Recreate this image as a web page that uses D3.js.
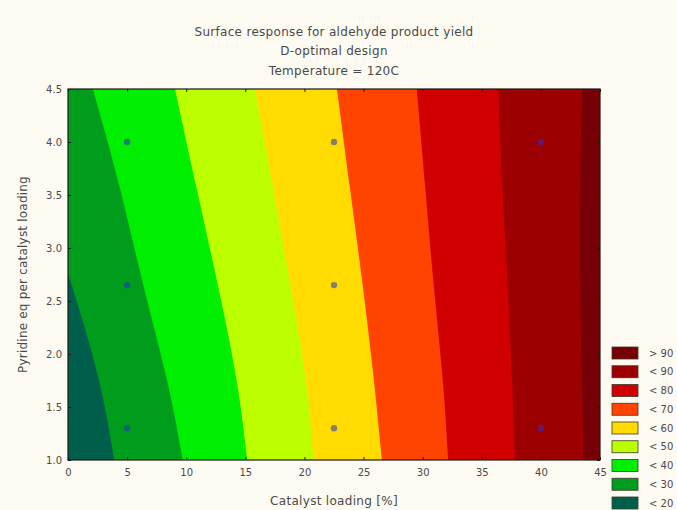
<!DOCTYPE html>
<html>
<head>
<meta charset="utf-8">
<script src="https://cdn.jsdelivr.net/npm/d3@7"></script>
<style>
  html, body { margin: 0; padding: 0; background: #fdfaf2; }
  svg { display: block; }
  text { font-family: "DejaVu Sans", sans-serif; fill: #4a4a4a; }
</style>
</head>
<body>
<svg id="chart" width="677" height="510"></svg>
<script>
// ---- data ----
const titleLines = ["Surface response for aldehyde product yield", "D-optimal design", "Temperature = 120C"];
const xLabel = "Catalyst loading [%]";
const yLabel = "Pyridine eq per catalyst loading";
const xTicks = [0, 5, 10, 15, 20, 25, 30, 35, 40, 45];
const yTicks = [1.0, 1.5, 2.0, 2.5, 3.0, 3.5, 4.0, 4.5];

// pyridine levels at which each contour boundary was read
const yLevels = [4.5, 3.6, 2.65, 1.7, 1.0];
// catalyst loading of each contour line at the yLevels above
const contour20 = [-4.8, -2.4, 0.35, 2.9, 3.9];
const contour30 = [2.1, 4.4, 6.3, 8.6, 9.7];
const contour40 = [9.05, 10.8, 12.7, 14.45, 15.15];
const contour50 = [15.8, 17.3, 18.8, 20.3, 20.75];
const contour60 = [22.75, 23.8, 24.95, 25.95, 26.55];
const contour70 = [29.5, 30.2, 30.9, 31.8, 32.15];
const contour80 = [36.4, 36.7, 37.2, 37.6, 37.8];
const contour90 = [43.5, 43.3, 43.3, 43.5, 43.6];

const bandLabels = ["< 20", "< 30", "< 40", "< 50", "< 60", "< 70", "< 80", "< 90", "> 90"];
const bandColors = ["#005f4a", "#009c1c", "#00ee00", "#bbff00", "#ffdb00", "#ff4300", "#d00000", "#9c0000", "#760006"];

// design points
const pointX = [5, 5, 5, 22.5, 22.5, 22.5, 40, 40];
const pointY = [4.0, 2.65, 1.3, 4.0, 2.65, 1.3, 4.0, 1.3];

// ---- drawing ----
(function () {
const svg = d3.select("#chart");
const mLeft = 68, mRight = 600, mTop = 89, mBottom = 460;

const x = d3.scaleLinear().domain([0, 45]).range([mLeft, mRight]);
const y = d3.scaleLinear().domain([1.0, 4.5]).range([mBottom, mTop]);

svg.append("defs").append("clipPath").attr("id", "plotClip")
  .append("rect").attr("x", mLeft).attr("y", mTop)
  .attr("width", mRight - mLeft).attr("height", mBottom - mTop);

const plot = svg.append("g").attr("clip-path", "url(#plotClip)");

// base band
plot.append("rect").attr("x", mLeft).attr("y", mTop)
  .attr("width", mRight - mLeft).attr("height", mBottom - mTop)
  .attr("fill", bandColors[0]);

const contours = [contour20, contour30, contour40, contour50, contour60, contour70, contour80, contour90];
const area = d3.area()
  .y(d => y(d.y))
  .x0(d => x(d.x))
  .x1(() => x(50))
  .curve(d3.curveBasis);

contours.forEach((c, i) => {
  const pts = yLevels.map((yy, k) => ({ x: c[k], y: yy })).reverse();
  plot.append("path")
    .attr("d", area(pts))
    .attr("fill", bandColors[i + 1]);
});

// design points
plot.selectAll("circle.pt")
  .data(pointX.map((px, i) => ({ x: px, y: pointY[i] })))
  .join("circle")
  .attr("class", "pt")
  .attr("cx", d => x(d.x))
  .attr("cy", d => y(d.y))
  .attr("r", 3.2)
  .attr("fill", "#2a30c8")
  .attr("fill-opacity", 0.55);

// axes with inward ticks
const fmtY = d3.format(".1f");
const gx = svg.append("g").attr("transform", `translate(0,${mBottom})`)
  .call(d3.axisBottom(x).tickValues(xTicks).tickSize(-3).tickPadding(9).tickFormat(d3.format("d")));
const gy = svg.append("g").attr("transform", `translate(${mLeft},0)`)
  .call(d3.axisLeft(y).tickValues(yTicks).tickSize(-3).tickPadding(6).tickFormat(fmtY));
const gt = svg.append("g").attr("transform", `translate(0,${mTop})`)
  .call(d3.axisTop(x).tickValues(xTicks).tickSize(-3).tickFormat(""));
const gr = svg.append("g").attr("transform", `translate(${mRight},0)`)
  .call(d3.axisRight(y).tickValues(yTicks).tickSize(-3).tickFormat(""));

[gx, gy, gt, gr].forEach(g => {
  g.select(".domain").remove();
  g.selectAll(".tick line").attr("stroke", "#1a1a1a");
  g.selectAll(".tick text").attr("font-size", 10).attr("fill", "#555")
    .attr("font-family", "DejaVu Sans, sans-serif");
});

// frame
svg.append("rect").attr("x", mLeft).attr("y", mTop)
  .attr("width", mRight - mLeft).attr("height", mBottom - mTop)
  .attr("fill", "none").attr("stroke", "#1a1a1a").attr("stroke-width", 1.2);

// titles
svg.selectAll("text.title").data(titleLines).join("text")
  .attr("class", "title")
  .attr("x", (mLeft + mRight) / 2)
  .attr("y", (d, i) => 35.5 + i * 19.5)
  .attr("text-anchor", "middle")
  .attr("font-size", 12)
  .attr("letter-spacing", 0.3)
  .text(d => d);

svg.append("text")
  .attr("x", (mLeft + mRight) / 2).attr("y", 504.5)
  .attr("text-anchor", "middle").attr("font-size", 12)
  .attr("letter-spacing", 0.3)
  .text(xLabel);

svg.append("text")
  .attr("transform", `translate(27,${(mTop + mBottom) / 2}) rotate(-90)`)
  .attr("text-anchor", "middle").attr("font-size", 12)
  .attr("letter-spacing", 0.2)
  .text(yLabel);

// legend
const legY = d3.scaleLinear().domain([0, 8]).range([347, 497]);
const legendOrder = bandLabels.map((l, i) => ({ label: l, color: bandColors[i] })).reverse();
const leg = svg.append("g");
leg.selectAll("rect").data(legendOrder).join("rect")
  .attr("x", 612).attr("y", (d, i) => legY(i))
  .attr("width", 26).attr("height", 12)
  .attr("fill", d => d.color)
  .attr("stroke", "#3a3a2a").attr("stroke-width", 0.8);
leg.selectAll("text").data(legendOrder).join("text")
  .attr("x", 649).attr("y", (d, i) => legY(i) + 6)
  .attr("dy", "0.35em").attr("font-size", 10).attr("fill", "#555")
  .text(d => d.label);
})();
</script>
</body>
</html>
